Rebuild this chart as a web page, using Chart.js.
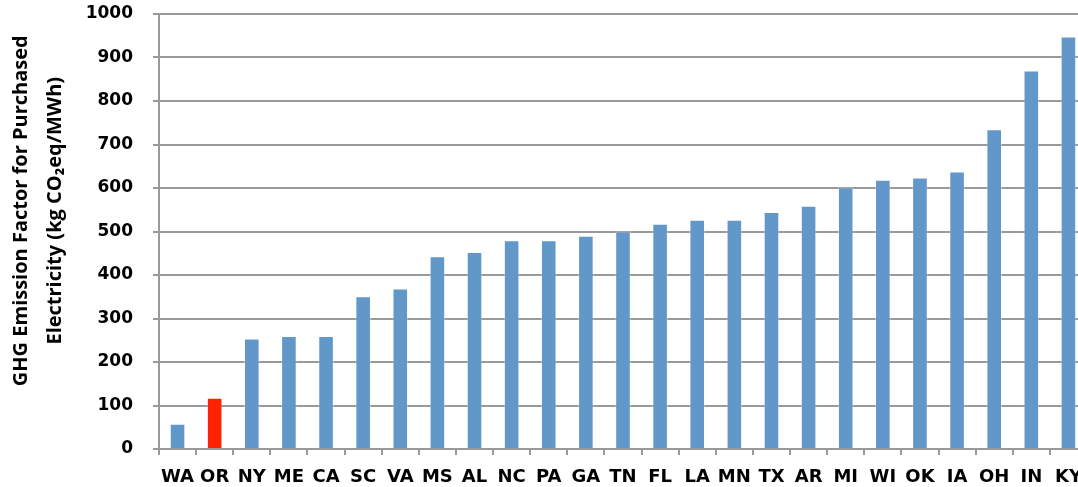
<!DOCTYPE html>
<html>
<head>
<meta charset="utf-8">
<script src="https://cdn.jsdelivr.net/npm/chart.js@4.4.0/dist/chart.umd.min.js"></script>
<style>
  html, body { margin: 0; padding: 0; overflow: hidden; background: #fff; }
  canvas { display: block; }
</style>
</head>
<body>
<canvas id="ghgChart" width="1087" height="487"></canvas>
<script>
// States, sorted by emission factor
const states = ["WA","OR","NY","ME","CA","SC","VA","MS","AL","NC","PA","GA","TN",
                "FL","LA","MN","TX","AR","MI","WI","OK","IA","OH","IN","KY"];
// kg CO2eq / MWh
const factors = [58,118,254,260,260,351,369,443,453,480,480,490,500,
                 518,527,527,545,559,601,619,624,638,735,870,948];
const highlight = "OR";

const blue = '#6297ca';
const red = '#ff2200';
const gridGray = '#9a9a9a';

const barColors = states.map(s => s === highlight ? red : blue);

// nbsp padding nudges the rotated title up a bit, like the original
const pad = '\u00a0'.repeat(8);
const yTitle = [pad + 'GHG Emission Factor for Purchased', pad + 'Electricity (kg CO\u2082eq/MWh)'];

const ctx = document.getElementById('ghgChart').getContext('2d');

const ghgChart = new Chart(ctx, {
  type: 'bar',
  data: {
    labels: states,
    datasets: [{
      data: factors,
      backgroundColor: barColors,
      borderColor: 'rgba(255,255,255,0.35)',
      borderWidth: 1,
      barPercentage: 0.42,
      categoryPercentage: 1.0
    }]
  },
  options: {
    responsive: false,
    maintainAspectRatio: false,
    animation: false,
    layout: { padding: { top: 0, right: 0, bottom: 0, left: 4 } },
    plugins: {
      legend: { display: false },
      tooltip: { enabled: false }
    },
    scales: {
      x: {
        grid: {
          drawOnChartArea: false,
          drawTicks: true,
          tickLength: 6,
          color: gridGray,
          lineWidth: 2
        },
        border: { color: gridGray, width: 2 },
        ticks: {
          color: '#000',
          padding: 13,
          autoSkip: false,
          maxRotation: 0,
          font: { family: 'DejaVu Sans', weight: 'bold', size: 18, lineHeight: 1 }
        },
        afterFit: function(scale) {
          scale.height = 38;
          scale.paddingLeft = 0;
          scale.paddingRight = 0;
        }
      },
      y: {
        min: 0,
        max: 1000,
        ticks: {
          stepSize: 100,
          color: '#000',
          padding: 20,
          callback: v => String(v),
          font: { family: 'DejaVu Sans', weight: 'bold', size: 17 }
        },
        grid: {
          color: gridGray,
          lineWidth: 2,
          tickLength: 6
        },
        border: { color: gridGray, width: 2 },
        title: {
          display: true,
          text: yTitle,
          color: '#000',
          font: { family: 'Open Sans', weight: 'bold', size: 20, lineHeight: 1.7 },
          padding: { top: 0, bottom: 4 }
        },
        afterFit: function(scale) {
          scale.width = 155;
          scale.paddingTop = 14;
          scale.paddingBottom = 0;
        }
      }
    }
  }
});
</script>
</body>
</html>
